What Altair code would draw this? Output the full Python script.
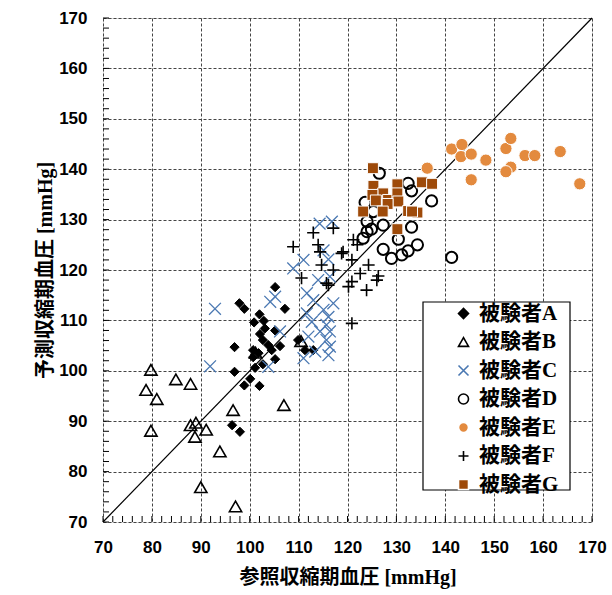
import altair as alt
import pandas as pd

# ---------------- data ----------------
subjects = ["被験者A", "被験者B", "被験者C", "被験者D", "被験者E", "被験者F", "被験者G"]

A_x = [105.2, 97.9, 98.9, 107.2, 102.0, 100.9, 102.9, 103.1, 102.1, 105.2, 96.9, 102.7, 103.8, 100.7, 106.2,
       104.5, 101.8, 100.7, 105.2, 102.7, 101.1, 96.9, 100.1, 98.9, 102.0, 109.9, 111.3, 113.0, 96.4, 98.0]
A_y = [116.6, 113.4, 112.3, 112.3, 111.2, 109.6, 109.9, 108.4, 107.3, 108.0, 104.7, 106.1, 105.1, 104.1, 104.9,
       104.1, 103.5, 102.7, 102.3, 101.3, 100.6, 99.8, 98.4, 97.1, 97.0, 106.1, 104.1, 104.1, 89.2, 87.9]

B_x = [79.8, 84.9, 87.9, 78.8, 81.0, 79.8, 87.9, 89.0, 88.8, 91.1, 93.9, 90.0, 96.6, 97.1, 107.0, 110.5, 101.2]
B_y = [100.2, 98.3, 97.4, 96.2, 94.4, 88.1, 89.2, 89.7, 86.9, 88.3, 84.0, 76.9, 92.2, 73.1, 93.2, 105.9, 103.6]

C_x = [92.9, 91.9, 114.3, 116.8, 115.1, 111.0, 116.1, 108.9, 114.0, 116.4, 111.7, 104.2, 105.2, 113.0, 117.1,
       111.7, 115.1, 116.1, 112.7, 115.7, 106.2, 114.4, 112.0, 116.4, 115.7, 113.4, 116.1, 116.4, 111.0, 103.8]
C_y = [112.3, 100.9, 129.2, 129.6, 123.9, 122.0, 122.1, 120.3, 118.0, 118.7, 115.4, 113.7, 114.7, 114.0, 113.4,
       111.4, 112.1, 110.7, 109.7, 109.1, 107.8, 107.8, 106.8, 107.8, 106.1, 103.8, 103.1, 104.8, 102.5, 100.8]

D_x = [126.5, 133.1, 137.2, 123.6, 125.3, 124.0, 127.3, 133.1, 124.0, 130.4, 123.2, 134.3, 127.3, 132.4, 131.1,
       129.0, 141.3, 124.9, 132.4]
D_y = [139.2, 135.7, 133.7, 133.4, 131.6, 129.6, 128.9, 128.5, 127.6, 126.1, 126.3, 125.0, 124.1, 123.8, 123.0,
       122.3, 122.5, 128.1, 137.2]

E_x = [136.3, 141.3, 143.4, 143.2, 145.3, 145.3, 148.3, 152.4, 153.4, 153.4, 152.4, 156.3, 158.3, 163.5, 167.5]
E_y = [140.2, 144.0, 144.9, 142.5, 143.0, 137.9, 141.8, 144.1, 146.1, 140.4, 139.5, 142.7, 142.7, 143.5, 137.1]

F_x = [113.0, 108.9, 114.0, 114.4, 121.2, 122.0, 118.8, 120.9, 114.7, 117.1, 110.6, 124.3, 120.9, 122.6, 116.1,
       120.2, 123.9, 126.0, 120.9, 117.1, 119.1, 115.7, 126.3]
F_y = [127.4, 124.6, 125.0, 123.6, 126.0, 125.0, 123.3, 122.0, 121.0, 120.0, 118.4, 121.0, 117.7, 119.3, 117.0,
       116.7, 116.0, 118.0, 109.4, 128.3, 123.6, 117.4, 118.8]

G_x = [125.2, 125.3, 130.2, 135.2, 137.3, 127.3, 125.1, 125.8, 128.3, 130.2, 130.4, 128.2, 123.2, 127.2, 132.4,
       134.3, 133.2, 130.2]
G_y = [140.2, 136.7, 137.0, 137.4, 137.1, 135.2, 134.9, 133.8, 133.9, 135.2, 133.6, 133.1, 131.6, 131.6, 131.7,
       131.4, 131.6, 128.1]

axis_ticks = [70, 80, 90, 100, 110, 120, 130, 140, 150, 160, 170]
minor_ticks = list(range(70, 171, 2))
diag = [70, 170]

# ---------------- styles ----------------
series_xy = [(A_x, A_y), (B_x, B_y), (C_x, C_y), (D_x, D_y), (E_x, E_y), (F_x, F_y), (G_x, G_y)]
sizes = [85, 150, 140, 125, 150, 150, 120]
widths = [1, 1.6, 1.3, 2, 1, 1.6, 1]
shapes = ["diamond", "triangle-up", "M-1,-1L1,1M-1,1L1,-1", "circle", "circle", "M-1,0L1,0M0,-1L0,1", "square"]
strokes = ["black", "black", "#4A78B2", "black", "white", "black", "white"]
fills = ["black", "transparent", "transparent", "transparent", "#E38A3E", "transparent", "#9E4A09"]

rows = []
for name, (xs, ys), sz, sw in zip(subjects, series_xy, sizes, widths):
    for xv, yv in zip(xs, ys):
        rows.append({"ref": xv, "pred": yv, "subject": name, "sz": sz, "sw": sw})
df = pd.DataFrame(rows)

xscale = alt.Scale(domain=[70, 170], nice=False)
yscale = alt.Scale(domain=[70, 170], nice=False)

FONT_MIX = "Liberation Serif, Noto Sans CJK JP"

xaxis = alt.Axis(values=axis_ticks, title="参照収縮期血圧 [mmHg]", grid=True, gridDash=[3, 2],
                 gridColor="#444444", gridWidth=1, domain=False, ticks=False,
                 labelFont="Liberation Sans", labelFontWeight="bold", labelFontSize=17, labelColor="black",
                 labelPadding=17, titleFont=FONT_MIX, titleFontWeight="bold", titleFontSize=20,
                 titleColor="black", titlePadding=12, labelFlush=False)
yaxis = alt.Axis(values=axis_ticks, title="予測収縮期血圧 [mmHg]", grid=True, gridDash=[3, 2],
                 gridColor="#444444", gridWidth=1, domain=False, ticks=False,
                 labelFont="Liberation Sans", labelFontWeight="bold", labelFontSize=17, labelColor="black",
                 labelPadding=16, titleFont=FONT_MIX, titleFontWeight="bold", titleFontSize=20,
                 titleColor="black", titlePadding=3, labelFlush=False)

# base layer with axes / grid (invisible)
base = alt.Chart(pd.DataFrame({"v": diag})).mark_line(strokeOpacity=0).encode(
    x=alt.X("v:Q", scale=xscale, axis=xaxis),
    y=alt.Y("v:Q", scale=yscale, axis=yaxis),
)

legend_box = alt.Chart(pd.DataFrame({"a": [0]})).mark_rect(fill="white", stroke="black", strokeWidth=1.2).encode(
    x=alt.value(320), x2=alt.value(467), y=alt.value(284), y2=alt.value(472)
)

diag_line = alt.Chart(pd.DataFrame({"v": diag})).mark_line(color="black", strokeWidth=1.2).encode(
    x=alt.X("v:Q", scale=xscale), y=alt.Y("v:Q", scale=yscale)
)

tick_df = pd.DataFrame({"t": minor_ticks})
yticks = alt.Chart(tick_df).mark_rule(color="black", strokeWidth=1).encode(
    y=alt.Y("t:Q", scale=yscale), x=alt.value(0), x2=alt.value(6)
)
xticks = alt.Chart(tick_df).mark_rule(color="black", strokeWidth=1).encode(
    x=alt.X("t:Q", scale=xscale), y=alt.value(504), y2=alt.value(498)
)

legend = alt.Legend(title=None, orient="none", legendX=350, legendY=285, padding=0,
                    labelFont=FONT_MIX, labelFontSize=21, labelFontWeight="bold", labelColor="black",
                    labelOffset=5, rowPadding=6.5, symbolSize=100, symbolStrokeWidth=1.6)

points = alt.Chart(df).mark_point(opacity=1, filled=False).encode(
    x=alt.X("ref:Q", scale=xscale),
    y=alt.Y("pred:Q", scale=yscale),
    shape=alt.Shape("subject:N", scale=alt.Scale(domain=subjects, range=shapes), legend=legend),
    stroke=alt.Stroke("subject:N", scale=alt.Scale(domain=subjects, range=strokes), legend=legend),
    fill=alt.Fill("subject:N", scale=alt.Scale(domain=subjects, range=fills), legend=legend),
    size=alt.Size("sz:Q", scale=None),
    strokeWidth=alt.StrokeWidth("sw:Q", scale=None),
)

chart = alt.layer(base, legend_box, diag_line, yticks, xticks, points).properties(
    width=489, height=504,
    autosize=alt.AutoSizeParams(type="none"),
    padding={"left": 103, "top": 18, "right": 20, "bottom": 73},
).configure_view(stroke="black", strokeWidth=2).configure(background="white")

chart.save("out.html", embed_options={"renderer": "svg", "actions": False})
